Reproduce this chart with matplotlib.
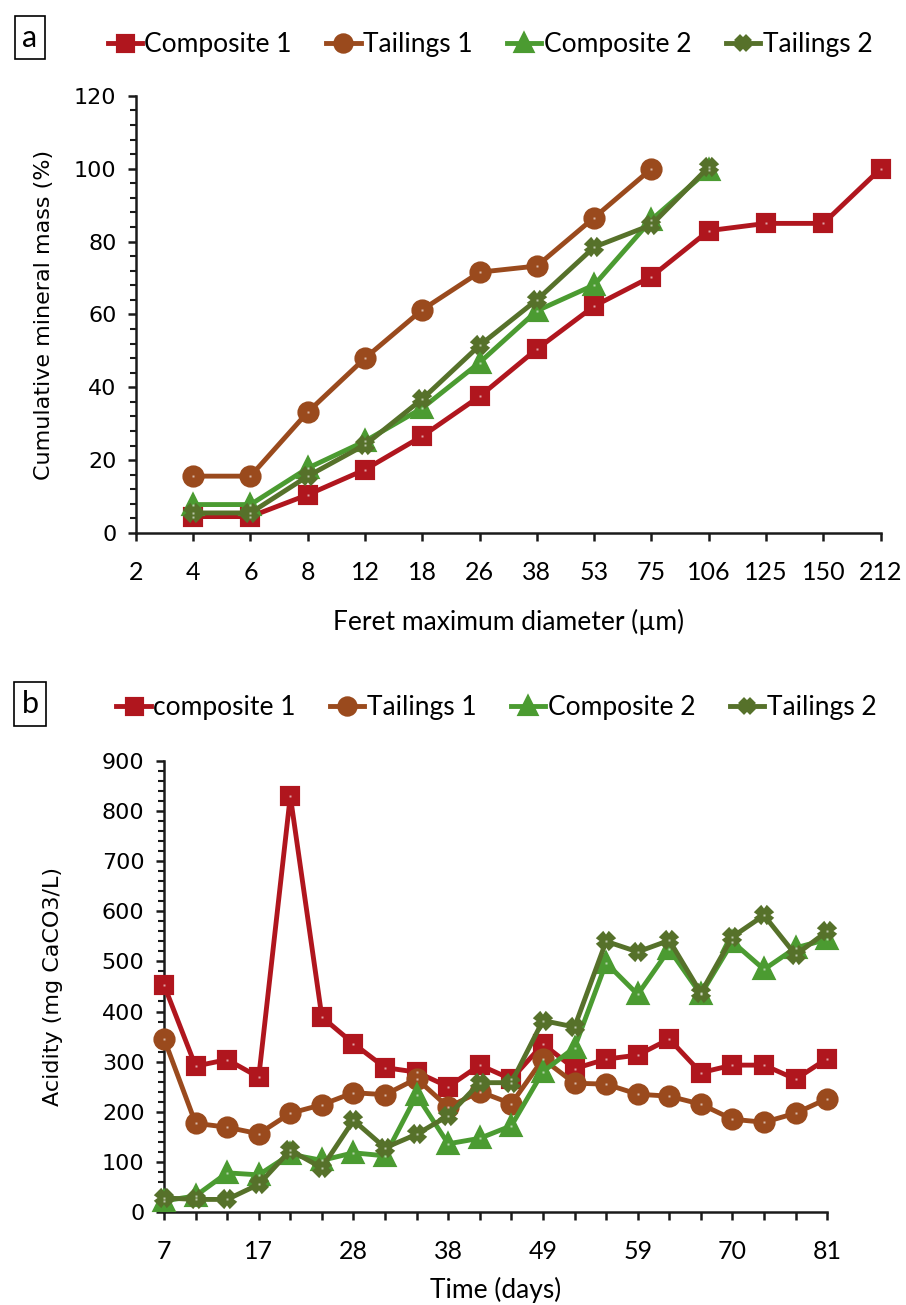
import numpy as np
import matplotlib
matplotlib.use("Agg")
import matplotlib.pyplot as plt
from matplotlib.ticker import MultipleLocator

# ---- panel a: cumulative mineral mass vs feret diameter ----
size_labels = ['2', '4', '6', '8', '12', '18', '26', '38', '53', '75', '106', '125', '150', '212']
comp1_mass = [4.5, 4.5, 10.5, 17.4, 26.6, 37.5, 50.5, 62.3, 70.4, 83.0, 85.0, 85.0, 100.0]
tail1_mass = [15.6, 15.6, 33.2, 48.0, 61.3, 71.6, 73.3, 86.6, 100.0]
comp2_mass = [7.8, 7.8, 17.8, 25.2, 34.3, 46.8, 61.0, 68.1, 86.0, 99.7]
tail2_mass = [5.5, 5.5, 15.6, 24.2, 36.8, 51.5, 64.0, 78.5, 84.6, 100.5]

# ---- panel b: acidity vs time ----
days = [7, 10, 14, 17, 21, 24, 28, 31, 35, 38, 42, 45, 49, 52, 56, 59, 63, 66, 70, 73, 77, 81]
day_labels = ['7', '17', '28', '38', '49', '59', '70', '81']
comp1_acid = [453, 291, 304, 269, 830, 389, 336, 288, 279, 250, 293, 265, 335, 286, 305, 313, 345, 278, 293, 293, 265, 306]
tail1_acid = [346, 177, 169, 156, 197, 214, 238, 234, 266, 209, 240, 216, 305, 257, 255, 235, 231, 215, 185, 179, 197, 226]
comp2_acid = [22, 32, 78, 74, 115, 103, 118, 112, 233, 136, 147, 172, 280, 328, 497, 434, 524, 434, 539, 484, 527, 544]
tail2_acid = [28, 25, 25, 55, 123, 88, 183, 128, 155, 192, 258, 258, 382, 369, 540, 519, 542, 437, 549, 592, 513, 560]

RED = '#B0161E'
BROWN = '#9A4A1D'
GREEN = '#4B9B31'
OLIVE = '#56712A'
TICK_FONT = 'Lato'


def style_axis(ax):
    for s in ['top', 'right']:
        ax.spines[s].set_visible(False)
    for s in ['left', 'bottom']:
        ax.spines[s].set_linewidth(1.8)
        ax.spines[s].set_color('#1a1a1a')
    ax.tick_params(axis='both', which='major', length=6, width=1.8, color='#1a1a1a')
    ax.tick_params(axis='y', which='minor', length=4, width=1.5, color='#1a1a1a')
    ax.tick_params(axis='x', which='minor', length=0)


def draw_series(ax, x, y, color, marker, label, ms):
    ax.plot(x, y, color=color, linewidth=3.5, marker=marker, markersize=ms,
            markerfacecolor=color, markeredgecolor=color, markeredgewidth=3,
            label=label, solid_joinstyle='round', clip_on=False, zorder=3)
    # small white dot in the middle of each marker, like the original
    ax.plot(x, y, linestyle='none', marker='s', markersize=2,
            markerfacecolor='white', markeredgecolor='none', alpha=0.6,
            clip_on=False, zorder=4)


fig = plt.figure(figsize=(9.06, 13.05), dpi=100)

# ------------------------------- panel a
ax1 = fig.add_axes([0.150, 0.5916, 0.822, 0.3349])
xa = np.arange(len(size_labels))
draw_series(ax1, xa[1:1 + len(comp1_mass)], comp1_mass, RED, 's', 'Composite 1', 12)
draw_series(ax1, xa[1:1 + len(tail1_mass)], tail1_mass, BROWN, 'o', 'Tailings 1', 13)
draw_series(ax1, xa[1:1 + len(comp2_mass)], comp2_mass, GREEN, '^', 'Composite 2', 13)
draw_series(ax1, xa[1:1 + len(tail2_mass)], tail2_mass, OLIVE, 'X', 'Tailings 2', 10)
ax1.set_xlim(0, len(size_labels) - 1)
ax1.set_ylim(0, 120)
ax1.set_xticks(xa)
ax1.set_xticklabels(size_labels, fontsize=18, family=TICK_FONT)
ax1.yaxis.set_major_locator(MultipleLocator(20))
ax1.yaxis.set_minor_locator(MultipleLocator(4))
ax1.tick_params(axis='y', labelsize=16, pad=8)
ax1.tick_params(axis='x', pad=14)
ax1.set_ylabel('Cumulative mineral mass (%)', fontsize=16, labelpad=14)
ax1.set_xlabel('Feret maximum diameter (\u00b5m)', fontsize=19, family=TICK_FONT, labelpad=18)
style_axis(ax1)

h, l = ax1.get_legend_handles_labels()
fig.legend(h, l, loc='center', bbox_to_anchor=(0.541, 0.966), ncol=4, frameon=False,
           prop={'family': TICK_FONT, 'size': 19}, handlelength=1.3,
           handletextpad=0.1, columnspacing=1.3, markerscale=0.9)

fig.text(0.033, 0.971, 'a', fontsize=22, ha='center', va='center', family=TICK_FONT,
         bbox=dict(boxstyle='square,pad=0.25', facecolor='white', edgecolor='black', linewidth=1.2))

# ------------------------------- panel b
ax2 = fig.add_axes([0.181, 0.0713, 0.732, 0.3456])
xb = np.arange(len(days))
draw_series(ax2, xb, comp1_acid, RED, 's', 'composite 1', 12)
draw_series(ax2, xb, tail1_acid, BROWN, 'o', 'Tailings 1', 13)
draw_series(ax2, xb, comp2_acid, GREEN, '^', 'Composite 2', 13)
draw_series(ax2, xb, tail2_acid, OLIVE, 'X', 'Tailings 2', 10)
ax2.set_xlim(0, len(days) - 1)
ax2.set_ylim(0, 900)
ax2.set_xticks(xb)
ax2.set_xticklabels([str(d) if str(d) in day_labels and i % 3 == 0 else '' for i, d in enumerate(days)],
                    fontsize=18, family=TICK_FONT)
ax2.yaxis.set_major_locator(MultipleLocator(100))
ax2.yaxis.set_minor_locator(MultipleLocator(20))
ax2.tick_params(axis='y', labelsize=16, pad=8)
ax2.tick_params(axis='x', pad=14)
ax2.set_ylabel('Acidity (mg CaCO3/L)', fontsize=16, labelpad=28)
ax2.set_xlabel('Time (days)', fontsize=19, family=TICK_FONT, labelpad=10)
style_axis(ax2)

h, l = ax2.get_legend_handles_labels()
fig.legend(h, l, loc='center', bbox_to_anchor=(0.548, 0.458), ncol=4, frameon=False,
           prop={'family': TICK_FONT, 'size': 19}, handlelength=1.3,
           handletextpad=0.1, columnspacing=1.3, markerscale=0.9)

fig.text(0.033, 0.4605, 'b', fontsize=22, ha='center', va='center', family=TICK_FONT,
         bbox=dict(boxstyle='square,pad=0.25', facecolor='white', edgecolor='black', linewidth=1.2))

fig.savefig('out.png', dpi=100)
